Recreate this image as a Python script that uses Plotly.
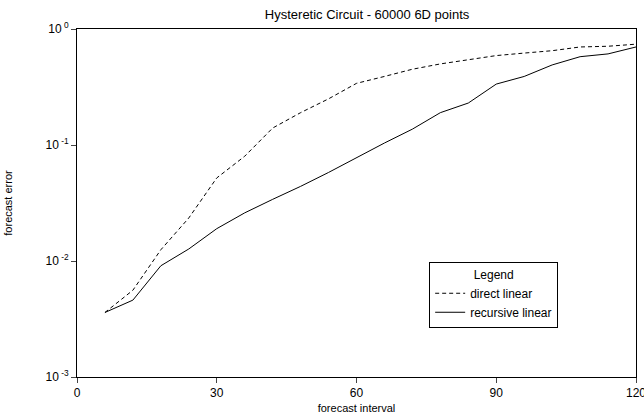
import plotly.graph_objects as go

interval = [6, 12, 18, 24, 30, 36, 42, 48, 54, 60, 66, 72, 78, 84, 90, 96, 102, 108, 114, 120]
direct_linear = [0.0036, 0.0056, 0.0125, 0.0235, 0.052, 0.08, 0.14, 0.19, 0.25, 0.34,
                 0.39, 0.45, 0.50, 0.54, 0.59, 0.62, 0.65, 0.70, 0.71, 0.74]
recursive_linear = [0.0036, 0.0046, 0.0091, 0.0127, 0.019, 0.026, 0.034, 0.044, 0.058, 0.078,
                    0.104, 0.137, 0.19, 0.23, 0.335, 0.39, 0.49, 0.577, 0.61, 0.70]

x_ticks = [0, 30, 60, 90, 120]
y_tickvals = [1e-3, 1e-2, 1e-1, 1]
y_ticktext = ["10<sup> -3</sup>", "10<sup> -2</sup>", "10<sup> -1</sup>", "10<sup> 0</sup>"]

FONT = "Liberation Sans, Arial, sans-serif"

fig = go.Figure()
fig.add_trace(go.Scatter(x=interval, y=direct_linear, mode="lines", name="direct linear",
                         line=dict(color="black", width=1, dash="4px,3px")))
fig.add_trace(go.Scatter(x=interval, y=recursive_linear, mode="lines", name="recursive linear",
                         line=dict(color="black", width=1)))

fig.update_layout(
    width=644, height=414,
    margin=dict(l=77, r=8, t=29, b=37, autoexpand=False),
    paper_bgcolor="white", plot_bgcolor="white",
    font=dict(family=FONT, size=12, color="black"),
    title=dict(text="Hysteretic Circuit - 60000 6D points", x=0.57, xanchor="center",
               y=0.965, yanchor="middle", font=dict(size=13)),
    legend=dict(x=0.63, y=0.33, xanchor="left", yanchor="top",
                bordercolor="black", borderwidth=1, bgcolor="white",
                title=dict(text="Legend", side="top center", font=dict(size=12)),
                font=dict(size=12), tracegroupgap=0, itemwidth=30),
    showlegend=True,
)
fig.update_xaxes(range=[0, 120], tickvals=x_ticks, ticks="outside", ticklen=5,
                 showline=True, linecolor="black", linewidth=1, mirror=True,
                 showgrid=False, zeroline=False, ticklabeloverflow="allow",
                 automargin=False,
                 title=dict(text="forecast interval", font=dict(size=11), standoff=8),
                 tickfont=dict(size=12))
fig.update_yaxes(type="log", range=[-3, 0], tickvals=y_tickvals, ticktext=y_ticktext,
                 ticks="outside", ticklen=5,
                 showline=True, linecolor="black", linewidth=1, mirror=True,
                 showgrid=False, zeroline=False, automargin=False,
                 title=dict(text="forecast error", font=dict(size=11), standoff=30),
                 tickfont=dict(size=12))

fig.write_html("out.html")
